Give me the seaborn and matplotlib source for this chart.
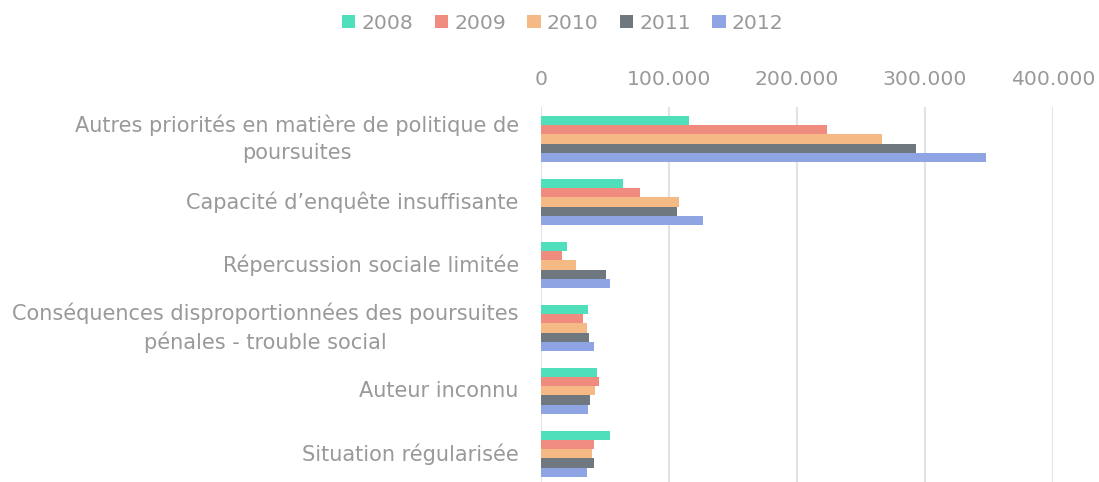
import pandas as pd
import matplotlib
matplotlib.use('Agg')
import matplotlib.pyplot as plt
import seaborn as sns
from matplotlib.ticker import FuncFormatter

# Data
categories = [
    'Autres priorités en matière de politique de\npoursuites',
    'Capacité d\u2019enquête insuffisante',
    'Répercussion sociale limitée',
    'Conséquences disproportionnées des poursuites\npénales - trouble social',
    'Auteur inconnu',
    'Situation régularisée',
]
years = ['2008', '2009', '2010', '2011', '2012']
v2008 = [115500, 64000, 20000, 37000, 44000, 53500]
v2009 = [223500, 77000, 16500, 33000, 45500, 41000]
v2010 = [266000, 108000, 27000, 36000, 42500, 40000]
v2011 = [293000, 106000, 51000, 37500, 38000, 41000]
v2012 = [348000, 126500, 53500, 41000, 37000, 36000]
colors = ['#4FDFBA', '#F08B80', '#F5B985', '#6F777F', '#8FA5E3']

rows = []
for yr, vals in zip(years, [v2008, v2009, v2010, v2011, v2012]):
    for cat, v in zip(categories, vals):
        rows.append({'Motif': cat, 'Année': yr, 'Nombre': v})
df = pd.DataFrame(rows)

sns.set_style('white')
plt.rcParams['font.family'] = ['DejaVu Sans']
text_col = '#999999'

fig = plt.figure(figsize=(10.99, 4.82), dpi=100)
ax = fig.add_axes([0.4923, -0.007, 0.4659, 0.784])
sns.barplot(data=df, y='Motif', x='Nombre', hue='Année', orient='h',
            palette=colors, width=0.73, ax=ax, saturation=1, legend=True,
            linewidth=0)

ax.set_xlim(0, 400000)
ax.set_xticks([0, 100000, 200000, 300000, 400000])
ax.xaxis.set_major_formatter(FuncFormatter(lambda x, p: f'{int(x):,}'.replace(',', '.')))
ax.xaxis.tick_top()
ax.grid(axis='x', color='#e3e3e3', linewidth=1.5)
ax.set_axisbelow(True)
for s in ax.spines.values():
    s.set_visible(False)
ax.set_xlabel('')
ax.set_ylabel('')
ax.tick_params(axis='x', length=0, pad=13, labelsize=14.7, labelcolor=text_col)
ax.tick_params(axis='y', length=0, pad=16, labelsize=15, labelcolor=text_col)
for lab in ax.get_yticklabels():
    lab.set_multialignment('center')
    lab.set_linespacing(1.45)
    lab.set_verticalalignment('center')

handles, labels = ax.get_legend_handles_labels()
ax.legend_.remove()
fig.legend(handles, labels, loc='center', bbox_to_anchor=(0.512, 0.952), ncol=5,
           frameon=False, fontsize=14.7, labelcolor=text_col, handlelength=0.65,
           handleheight=0.65, handletextpad=0.3, columnspacing=1.05)

fig.savefig('out.png', dpi=100)
